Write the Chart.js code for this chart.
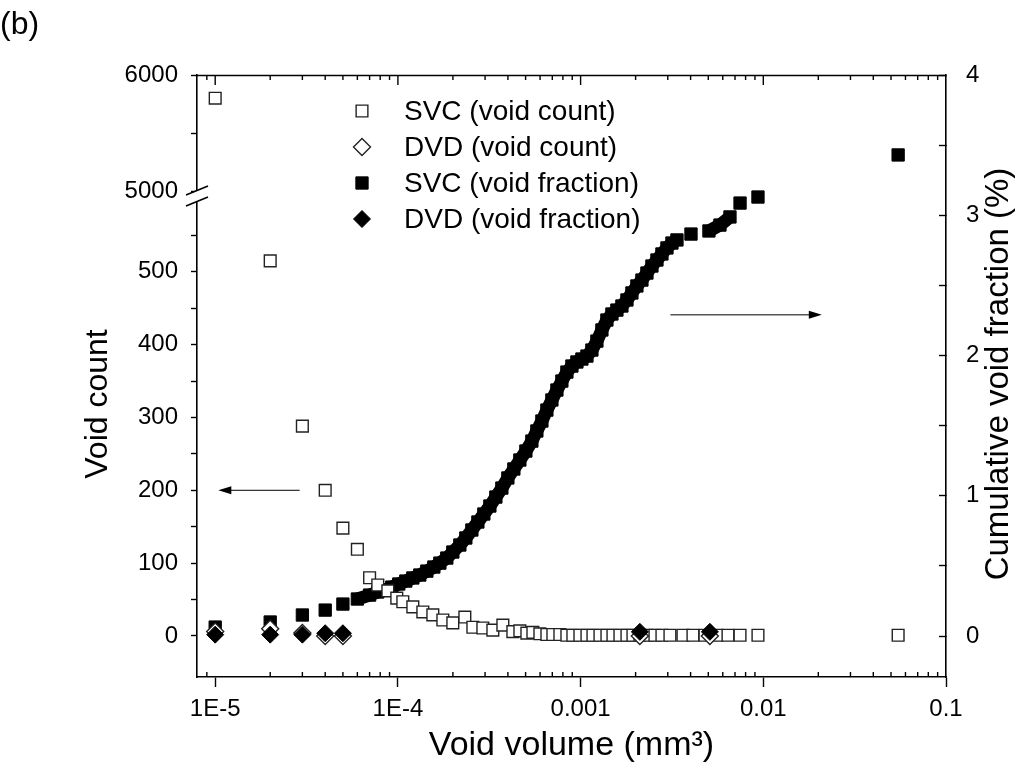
<!DOCTYPE html>
<html>
<head>
<meta charset="utf-8">
<script src="https://cdn.jsdelivr.net/npm/chart.js@4.4.1/dist/chart.umd.min.js"></script>
<style>
  body { margin: 0; background: #fff; }
  #wrap { position: relative; width: 1017px; height: 778px; }
</style>
</head>
<body>
<div id="wrap"><canvas id="chart"></canvas></div>
<script>
// values (void volume in mm3)
const svcCountHighX = [1e-5];
const svcCountHighY = [5800];

const svcCountX = [2e-5, 3e-5, 4e-5, 5e-5, 6e-5, 7e-5, 7.76e-5, 8.81e-5, 9.86e-5, 1.064e-4,
  1.207e-4, 1.369e-4, 1.553e-4, 1.762e-4, 1.998e-4, 2.325e-4, 2.572e-4, 2.917e-4, 3.309e-4, 3.754e-4,
  4.258e-4, 4.651e-4, 5.08e-4, 5.48e-4, 5.985e-4, 6.537e-4, 7.05e-4, 7.7e-4, 8.41e-4, 9.07e-4,
  9.91e-4, 1.083e-3, 1.168e-3, 1.276e-3, 1.393e-3, 1.503e-3, 1.641e-3, 1.793e-3, 1.934e-3, 2.112e-3,
  2.336e-3, 2.552e-3, 2.787e-3, 3.083e-3, 3.633e-3, 4.121e-3, 4.795e-3, 5.577e-3, 6.408e-3, 7.457e-3,
  9.35e-3, 0.0547];
const svcCountY = [515, 288, 200, 148, 119, 80, 70, 62, 52, 47,
  40, 33, 29, 22, 18, 26, 12, 11, 8, 15,
  6, 7, 4, 5, 3, 2, 2, 2, 1, 1,
  1, 1, 1, 1, 1, 1, 1, 1, 1, 1,
  1, 1, 1, 1, 1, 1, 1, 1, 1, 1,
  1, 1];

const dvdX = [1e-5, 2e-5, 3e-5, 4e-5, 5e-5, 2.11e-3, 5.1e-3];
const dvdCountY = [6, 10, 4, 0, 0, 0, 0];
const dvdFracY = [0.01, 0.01, 0.01, 0.02, 0.02, 0.03, 0.03];

const svcFracX = [1e-5, 2e-5, 3e-5, 4e-5, 5e-5, 6e-5, 7e-5,
  7.76e-5, 8.48e-5, 9.26e-5, 1.011e-4, 1.105e-4, 1.207e-4, 1.318e-4, 1.44e-4, 1.573e-4, 1.697e-4,
  1.852e-4, 1.998e-4, 2.183e-4, 2.354e-4, 2.54e-4, 2.74e-4, 2.954e-4, 3.187e-4, 3.437e-4, 3.707e-4,
  3.998e-4, 4.312e-4, 4.651e-4, 5.017e-4, 5.411e-4, 5.762e-4, 6.139e-4, 6.537e-4, 6.964e-4, 7.418e-4,
  7.898e-4, 8.414e-4, 8.961e-4, 9.544e-4, 1.0165e-3, 1.083e-3, 1.153e-3, 1.228e-3, 1.308e-3, 1.393e-3,
  1.484e-3, 1.58e-3, 1.683e-3, 1.793e-3, 1.909e-3, 2.033e-3, 2.166e-3, 2.307e-3, 2.457e-3, 2.617e-3,
  2.787e-3, 2.969e-3, 3.162e-3, 3.368e-3,
  4.02e-3, 5.04e-3, 5.79e-3, 6.57e-3, 7.46e-3, 9.35e-3, 0.0547];
const svcFracY = [0.064, 0.100, 0.150, 0.185, 0.228, 0.264, 0.292,
  0.314, 0.328, 0.349, 0.371, 0.392, 0.414, 0.435, 0.463, 0.492, 0.520,
  0.556, 0.599, 0.649, 0.699, 0.756, 0.813, 0.870, 0.927, 0.991, 1.055,
  1.127, 1.191, 1.255, 1.319, 1.390, 1.462, 1.533, 1.611, 1.683, 1.754,
  1.818, 1.882, 1.925, 1.954, 1.975, 1.996, 2.039, 2.103, 2.182, 2.253,
  2.296, 2.324, 2.353, 2.396, 2.446, 2.496, 2.538, 2.588, 2.638, 2.681,
  2.724, 2.767, 2.802, 2.824,
  2.866, 2.888, 2.930, 2.988, 3.087, 3.130, 3.430];

const xTickValues = [1e-5, 1e-4, 0.001, 0.01, 0.1];
const xTickLabels = ['1E-5', '1E-4', '0.001', '0.01', '0.1'];
const countLowTicks = [0, 50, 100, 150, 200, 250, 300, 350, 400, 450, 500, 550];
const countHighTicks = [5000, 5500, 6000];
const fracTicks = [0, 0.5, 1, 1.5, 2, 2.5, 3, 3.5, 4];
const legendLabels = ['SVC (void count)', 'DVD (void count)', 'SVC (void fraction)', 'DVD (void fraction)'];

// arrows: x from, x to, y value
const arrowLeft = [2.9e-5, 1.04e-5, 200];
const arrowRight = [0.0031, 0.0209, 2.29];

Chart.defaults.font.family = "'Liberation Sans', Arial, sans-serif";
Chart.defaults.font.size = 24;
Chart.defaults.color = '#000';

function pts(xs, ys) {
  return xs.map((x, i) => ({x: x, y: ys[i]}));
}

function isDecade(v) {
  const l = Math.log10(v);
  return Math.abs(l - Math.round(l)) < 1e-6;
}

const openStyle = {backgroundColor: '#fff', borderColor: '#222', borderWidth: 1.4};
const fillStyle = {backgroundColor: '#000', borderColor: '#000', borderWidth: 1};

// drawn last-to-first: the first one ends up on top
const datasets = [
  Object.assign({label: legendLabels[3], data: pts(dvdX, dvdFracY), yAxisID: 'y2',
    pointStyle: 'rectRot', pointRadius: 8.5}, fillStyle),
  Object.assign({label: legendLabels[1], data: pts(dvdX, dvdCountY), yAxisID: 'yLow',
    pointStyle: 'rectRot', pointRadius: 8.5}, openStyle),
  Object.assign({label: legendLabels[0], data: pts(svcCountX, svcCountY), yAxisID: 'yLow',
    pointStyle: 'rect', pointRadius: 8.3}, openStyle),
  Object.assign({label: '', data: pts(svcCountHighX, svcCountHighY), yAxisID: 'yHigh',
    pointStyle: 'rect', pointRadius: 8.3}, openStyle),
  Object.assign({label: legendLabels[2], data: pts(svcFracX, svcFracY), yAxisID: 'y2',
    pointStyle: 'rect', pointRadius: 8.7}, fillStyle),
];
datasets.forEach(d => { d.showLine = false; d.clip = false; });

// the densely packed part of the SVC fraction series reads as a thick band
const svcFrac = datasets[4];
svcFrac.showLine = true;
svcFrac.borderWidth = 13;
svcFrac.borderJoinStyle = 'round';
svcFrac.pointBorderWidth = 1;
svcFrac.segment = {
  borderColor: (c) => Math.hypot(c.p1.x - c.p0.x, c.p1.y - c.p0.y) > 14 ? 'rgba(0,0,0,0)' : '#000'
};

function drawMarker(ctx, ds, x, y) {
  const r = ds.pointRadius;
  ctx.beginPath();
  if (ds.pointStyle === 'rect') {
    const s = r * Math.SQRT1_2;
    ctx.rect(x - s, y - s, 2 * s, 2 * s);
  } else {
    ctx.moveTo(x - r, y); ctx.lineTo(x, y - r); ctx.lineTo(x + r, y); ctx.lineTo(x, y + r);
    ctx.closePath();
  }
  ctx.fillStyle = ds.backgroundColor;
  ctx.fill();
  ctx.lineWidth = ds.pointBorderWidth || ds.borderWidth;
  ctx.strokeStyle = ds.borderColor;
  ctx.stroke();
}

function arrow(ctx, x1, x2, y) {
  const dir = x2 > x1 ? 1 : -1;
  ctx.lineWidth = 1;
  ctx.beginPath(); ctx.moveTo(x1, y); ctx.lineTo(x2 - dir * 8, y); ctx.stroke();
  ctx.beginPath();
  ctx.moveTo(x2, y); ctx.lineTo(x2 - dir * 13, y - 4); ctx.lineTo(x2 - dir * 13, y + 4);
  ctx.closePath(); ctx.fill();
}

const decor = {
  id: 'decor',
  afterDraw(chart) {
    const {ctx, chartArea: ca, scales} = chart;
    const xs = scales.x;
    ctx.save();
    ctx.strokeStyle = '#000';
    ctx.fillStyle = '#000';
    // top frame line and inward ticks
    ctx.lineWidth = 1.6;
    ctx.beginPath(); ctx.moveTo(ca.left, ca.top + 0.5); ctx.lineTo(ca.right, ca.top + 0.5); ctx.stroke();
    ctx.lineWidth = 1.4;
    xs.ticks.forEach(t => {
      const px = xs.getPixelForValue(t.value);
      if (px < ca.left + 1 || px > ca.right - 1) return;
      const major = isDecade(t.value);
      ctx.beginPath();
      ctx.moveTo(px, ca.top); ctx.lineTo(px, ca.top + (major ? 10 : 5));
      if (!major) { ctx.moveTo(px, ca.bottom); ctx.lineTo(px, ca.bottom - 5); }
      ctx.stroke();
    });
    // axis break
    const ax = scales.yLow.right;
    const by = scales.yHigh.bottom;
    ctx.fillStyle = '#fff';
    ctx.fillRect(ax - 3, by - 5, 6, 10);
    ctx.strokeStyle = '#000';
    ctx.lineWidth = 1.6;
    ctx.beginPath();
    ctx.moveTo(ax - 11, by - 1); ctx.lineTo(ax + 11, by - 10);
    ctx.moveTo(ax - 11, by + 10); ctx.lineTo(ax + 11, by + 1);
    ctx.stroke();
    // arrows
    ctx.fillStyle = '#000';
    let yv = scales.yLow.getPixelForValue(arrowLeft[2]);
    arrow(ctx, xs.getPixelForValue(arrowLeft[0]), xs.getPixelForValue(arrowLeft[1]), yv);
    yv = scales.y2.getPixelForValue(arrowRight[2]);
    arrow(ctx, xs.getPixelForValue(arrowRight[0]), xs.getPixelForValue(arrowRight[1]), yv);
    // legend
    ctx.font = "28px 'Liberation Sans', Arial, sans-serif";
    ctx.textBaseline = 'middle';
    ctx.textAlign = 'left';
    legendLabels.forEach((lab, i) => {
      const ds = chart.data.datasets.find(d => d.label === lab);
      const ly = 111 + i * 36;
      drawMarker(ctx, ds, 362, ly);
      ctx.fillStyle = '#000';
      ctx.fillText(lab, 404, ly + 1);
    });
    // vertical axis titles
    ctx.textAlign = 'center';
    ctx.font = "32px 'Liberation Sans', Arial, sans-serif";
    ctx.save();
    ctx.translate(98, 404); ctx.rotate(-Math.PI / 2);
    ctx.fillText('Void count', 0, 0);
    ctx.restore();
    ctx.font = "33px 'Liberation Sans', Arial, sans-serif";
    ctx.save();
    ctx.translate(999, 374); ctx.rotate(-Math.PI / 2);
    ctx.fillText('Cumulative void fraction (%)', 0, 0);
    ctx.restore();
    // panel label
    ctx.textAlign = 'left';
    ctx.font = "32px 'Liberation Sans', Arial, sans-serif";
    ctx.fillText('(b)', 0, 25);
    ctx.restore();
  }
};

function setTicks(list) {
  return (scale) => { scale.ticks = list.map(v => ({value: v})); };
}

new Chart(document.getElementById('chart'), {
  type: 'scatter',
  data: {datasets: datasets},
  plugins: [decor],
  options: {
    responsive: true,
    maintainAspectRatio: false,
    animation: false,
    layout: {padding: {top: 75, left: 0, right: 0, bottom: 0}},
    plugins: {legend: {display: false}, tooltip: {enabled: false}},
    scales: {
      x: {
        type: 'logarithmic',
        position: 'bottom',
        min: 7.95e-6,
        max: 0.1,
        afterBuildTicks: (scale) => {
          const ticks = [];
          for (let e = -6; e <= -1; e++) {
            for (let m = 1; m <= 9; m++) {
              const v = m * Math.pow(10, e);
              if (v >= scale.min && v <= scale.max * 1.0001) ticks.push({value: v, major: m === 1});
            }
          }
          scale.ticks = ticks;
        },
        afterFit: (scale) => { scale.height = 101; },
        ticks: {
          autoSkip: false,
          maxRotation: 0,
          padding: 8,
          callback: (v) => {
            const i = xTickValues.findIndex(t => Math.abs(t - v) / t < 1e-6);
            return i >= 0 ? xTickLabels[i] : '';
          }
        },
        grid: {
          drawOnChartArea: false,
          tickLength: 10,
          tickWidth: 1.4,
          tickColor: (c) => (c.tick && isDecade(c.tick.value)) ? '#000' : 'rgba(0,0,0,0)'
        },
        border: {color: '#000', width: 1.6},
        title: {display: true, text: 'Void volume (mm³)', font: {size: 34}, padding: {top: 0, bottom: 12}}
      },
      yLow: {
        type: 'linear',
        position: 'left',
        stack: 'left',
        stackWeight: 481,
        weight: 0,
        min: -56.3,
        max: 604,
        afterBuildTicks: setTicks(countLowTicks),
        afterFit: (scale) => { scale.width = 197; },
        ticks: {
          autoSkip: false,
          padding: 13,
          callback: (v) => (v % 100 === 0 ? String(v) : '')
        },
        grid: {drawOnChartArea: false, tickLength: 6, tickWidth: 1.4, tickColor: '#000'},
        border: {color: '#000', width: 1.6}
      },
      yHigh: {
        type: 'linear',
        position: 'left',
        stack: 'left',
        stackWeight: 121,
        weight: 1,
        min: 4957,
        max: 6000,
        afterBuildTicks: setTicks(countHighTicks),
        afterFit: (scale) => { scale.width = 197; },
        ticks: {
          autoSkip: false,
          padding: 13,
          callback: (v) => (v % 1000 === 0 ? String(v) : '')
        },
        grid: {drawOnChartArea: false, tickLength: 6, tickWidth: 1.4, tickColor: '#000'},
        border: {color: '#000', width: 1.6}
      },
      y2: {
        type: 'linear',
        position: 'right',
        min: -0.292,
        max: 4,
        afterBuildTicks: setTicks(fracTicks),
        afterFit: (scale) => { scale.width = 71; },
        ticks: {
          autoSkip: false,
          padding: 27,
          callback: (v) => (Number.isInteger(v) ? String(v) : '')
        },
        grid: {drawOnChartArea: false, tickLength: -7, tickWidth: 1.4, tickColor: '#000'},
        border: {color: '#000', width: 1.6}
      }
    }
  }
});
</script>
</body>
</html>
